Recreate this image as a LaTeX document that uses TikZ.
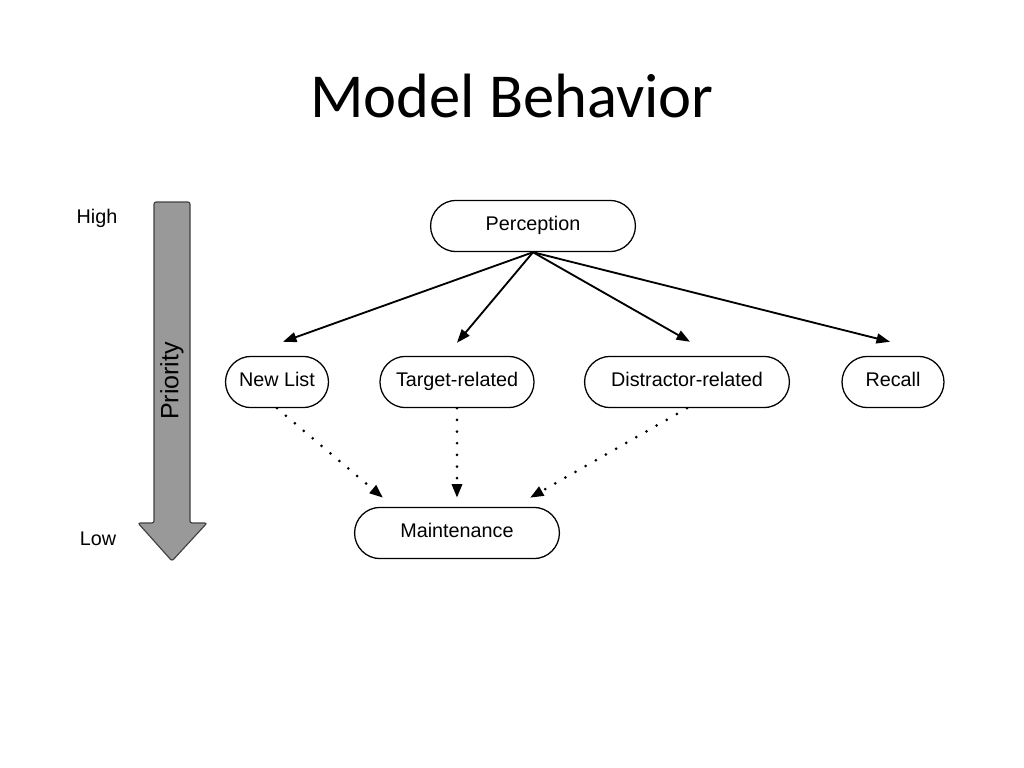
\documentclass[tikz,border=0pt]{standalone}
\usepackage{fontspec}
\setmainfont{Liberation Sans}
\newfontfamily\titlefont{Carlito}
\usepackage{xcolor}
\usetikzlibrary{arrows.meta,calc}

\begin{document}
\begin{tikzpicture}[x=0.703pt,y=-0.703pt,
  every node/.style={font=\fontsize{13.9}{16}\selectfont},
  stage/.style={draw,line width=0.9pt,rectangle,rounded corners=18pt,minimum height=36pt,inner sep=0pt,text height=10pt,text depth=3pt},
  pat/.style={-{Triangle[length=9.5pt,width=7pt]},line width=1.3pt},
  dots/.style={-{Triangle[length=9.5pt,width=7pt]},line width=2.1pt,line cap=round,dash pattern=on 0pt off 8.2pt}]
 \useasboundingbox (0,0) rectangle (1024,768);
 \node[font=\titlefont\fontsize{44}{50}\selectfont,anchor=base] (title) at (512,117) {Model Behavior};
 % priority arrow
 \draw[fill=black!40,draw=black!75,line width=0.8pt,rounded corners=1.5pt]
   (154,202) -- (190,202) -- (190,523) -- (207,523) -- (172,561) -- (138,523) -- (154,523) -- cycle;
 \node[rotate=90,font=\fontsize{17.6}{20}\selectfont] (prio) at (172,381) {Priority};
 \node (high) at (97,218) {High};
 \node (low) at (98,539) {Low};
 % stages
 \node[stage,minimum width=144pt] (perc) at (533,226) {Perception};
 \node[stage,minimum width=72.4pt] (nl) at (277,382) {New List};
 \node[stage,minimum width=108.3pt] (tr) at (457,382) {Target-related};
 \node[stage,minimum width=144pt] (dr) at (687,382) {Distractor-related};
 \node[stage,minimum width=71.7pt] (rc) at (893,382) {Recall};
 \node[stage,minimum width=144pt] (mt) at (457,533) {Maintenance};
 \draw[pat] (perc.south) -- ($(nl.north)+(6,-14)$);
 \draw[pat] (perc.south) -- ($(tr.north)+(0,-13)$);
 \draw[pat] (perc.south) -- ($(dr.north)+(3,-14)$);
 \draw[pat] (perc.south) -- ($(rc.north)+(-3,-14)$);
 \draw[dots] (nl.south) -- ($(mt.north)+(-74,-9)$);
 \draw[dots] (tr.south) -- ($(mt.north)+(0,-9)$);
 \draw[dots] (dr.south) -- ($(mt.north)+(73,-9)$);
\end{tikzpicture}
\end{document}
